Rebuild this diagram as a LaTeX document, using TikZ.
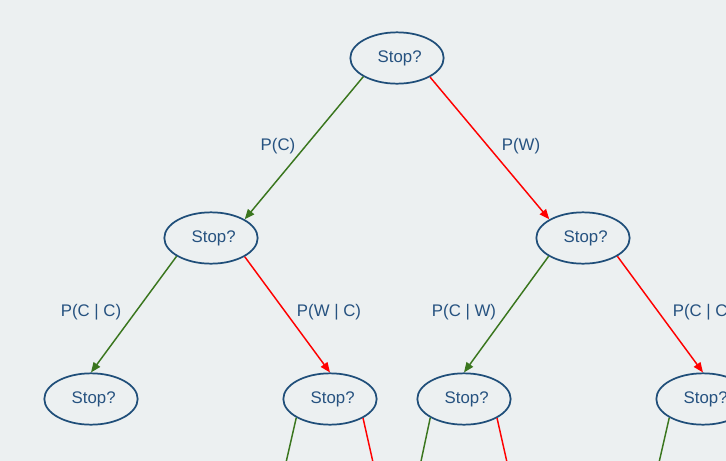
\documentclass[tikz,border=0pt]{standalone}
\usepackage{fontspec}
\setmainfont{Liberation Sans}
\usetikzlibrary{arrows.meta,shapes.geometric}

\definecolor{bgcol}{RGB}{236,240,241}
\definecolor{nodeblue}{RGB}{31,78,121}
\definecolor{textblue}{RGB}{38,82,128}
\definecolor{goodgreen}{RGB}{58,118,30}
\definecolor{badred}{RGB}{255,0,0}

\tikzset{
  lbl/.style={text=textblue,font=\fontsize{12.6}{15}\selectfont},
  cedge/.style={draw=goodgreen,line width=1.1pt},
  wedge/.style={draw=badred,line width=1.1pt}
}

\begin{document}
\begin{tikzpicture}[x=0.75pt,y=-0.75pt]
            \clip (0,0) rectangle (726,461);
            \fill[bgcol] (0,0) rectangle (726,461);
            \begin{scope}[every node/.style={ellipse,draw=nodeblue,line width=1.3pt,minimum width=70pt,minimum height=38.5pt,inner sep=0pt,lbl}]
                \node (r) at (397,58) {\hspace*{4pt}Stop?};

                \node (c) at (211,238) {\hspace*{4pt}Stop?};
                \node (w) at (583,238) {\hspace*{4pt}Stop?};

                \node (cc) at (91,399) {\hspace*{4pt}Stop?};
                \node (cw) at (330,399) {\hspace*{4pt}Stop?};
                \node (wc) at (464,399) {\hspace*{4pt}Stop?};
                \node (ww) at (703,399) {\hspace*{4pt}Stop?};
            \end{scope}

            % branch ends below the page
            \coordinate (cw1) at (282,480);
            \coordinate (cw2) at (377,480);
            \coordinate (wc1) at (417,480);
            \coordinate (wc2) at (511,480);
            \coordinate (ww1) at (655,480);

            \node[lbl] (pc) at (278,146) {P(C)};
            \node[lbl] (pw) at (521,146) {P(W)};
            \node[lbl] (pcc) at (91,312) {P(C | C)};
            \node[lbl] (pwc) at (329,312) {P(W | C)};
            \node[lbl] (pcw) at (464,312) {P(C | W)};
            \node[lbl] (pww) at (703,312) {P(C | C)};

            \begin{scope}[>={Triangle[length=7.5pt,width=6pt]}]
                \path [->] (r.209) edge[cedge] (c.29);
                \path [->] (r.330) edge[wedge] (w.151);

                \path [->] (c.208) edge[cedge] (cc.north);
                \path [->] (c.331) edge[wedge] (cw.north);
                \path [->] (w.208) edge[cedge] (wc.north);
                \path [->] (w.332) edge[wedge] (ww.north);

                \path [->] (cw.209) edge[cedge] (cw1);
                \path [->] (cw.330) edge[wedge] (cw2);
                \path [->] (wc.209) edge[cedge] (wc1);
                \path [->] (wc.330) edge[wedge] (wc2);
                \path [->] (ww.209) edge[cedge] (ww1);
            \end{scope}
        \end{tikzpicture}
\end{document}
